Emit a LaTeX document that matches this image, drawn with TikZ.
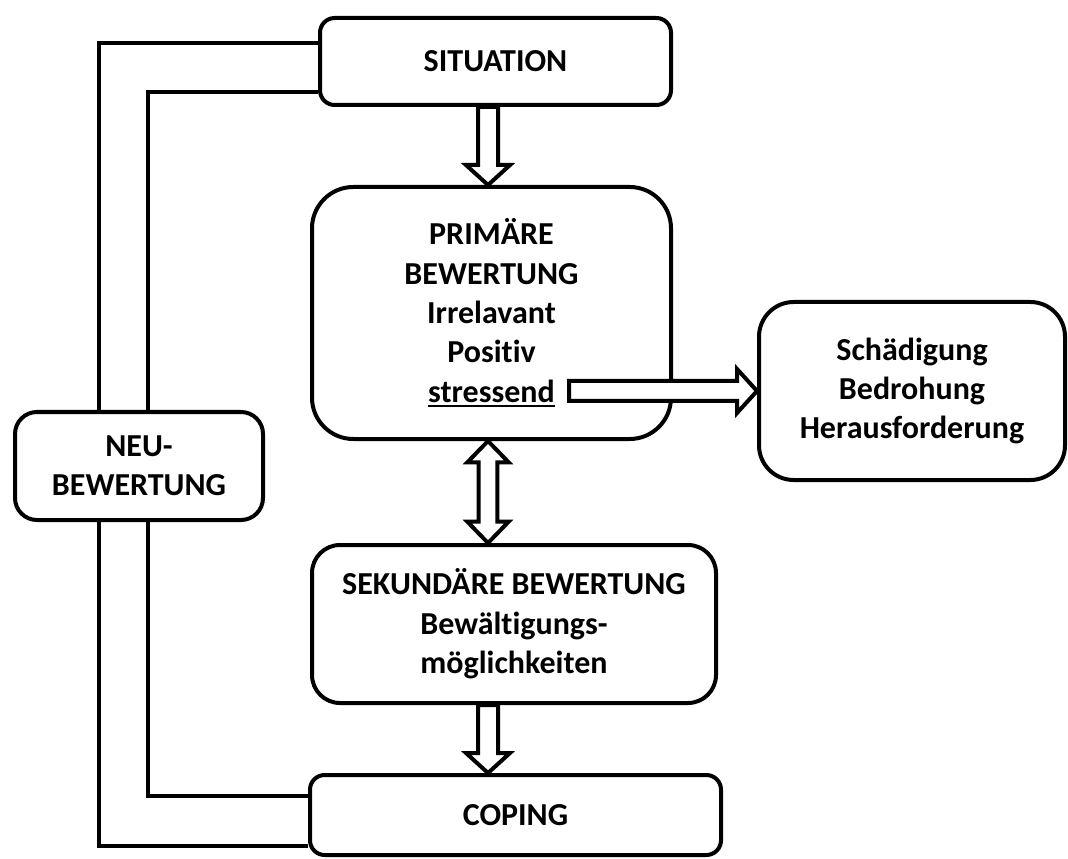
\documentclass[tikz,border=0pt]{standalone}
\usepackage{fontspec}
\setmainfont{Carlito}[Ligatures=CommonOff]
\usetikzlibrary{calc}

\tikzset{
  box/.style={draw, line width=3pt, align=center, inner sep=0pt,
    font=\bfseries\fontsize{24}{29.5}\selectfont},
  link/.style={line width=3pt},
  hollow/.style={draw, fill=white, line width=3pt}
}

% thicker underline, as in the picture
\newcommand{\thickul}[1]{\setbox0\hbox{#1}\rlap{\rule[-3.8pt]{\wd0}{1.6pt}}\box0}

% hollow block arrow from #1 to #2
\newcommand{\fatarrow}[2]{
  \coordinate (fa-s) at #1;
  \coordinate (fa-e) at #2;
  \coordinate (fa-h) at ($(fa-e)!15pt!(fa-s)$);
  \filldraw[hollow] ($(fa-s)!7.5pt!90:(fa-e)$) -- ($(fa-h)!7.5pt!90:(fa-e)$)
    -- ($(fa-h)!16.5pt!90:(fa-e)$) -- (fa-e) -- ($(fa-h)!16.5pt!-90:(fa-e)$)
    -- ($(fa-h)!7.5pt!-90:(fa-e)$) -- ($(fa-s)!7.5pt!-90:(fa-e)$) -- cycle;
}
% hollow block arrow with a head at both ends
\newcommand{\dblarrow}[2]{
  \coordinate (da-s) at #1;
  \coordinate (da-e) at #2;
  \coordinate (da-h1) at ($(da-s)!16pt!(da-e)$);
  \coordinate (da-h2) at ($(da-e)!16pt!(da-s)$);
  \filldraw[hollow] (da-s) -- ($(da-h1)!15.5pt!90:(da-e)$) -- ($(da-h1)!7pt!90:(da-e)$)
    -- ($(da-h2)!7pt!90:(da-e)$) -- ($(da-h2)!15.5pt!90:(da-e)$) -- (da-e)
    -- ($(da-h2)!15.5pt!-90:(da-e)$) -- ($(da-h2)!7pt!-90:(da-e)$)
    -- ($(da-h1)!7pt!-90:(da-e)$) -- ($(da-h1)!15.5pt!-90:(da-e)$) -- cycle;
}

\begin{document}
\begin{tikzpicture}[x=0.75pt,y=-0.75pt]
  \useasboundingbox (0,0) rectangle (1068,859);

  % The boxes
  \node[box, minimum width=263.25pt, minimum height=65.25pt, rounded corners=11pt]
    (sit) at (495.5,61.5) {SITUATION};
  \node[box, minimum width=269.25pt, minimum height=189pt, rounded corners=31pt]
    (prim) at (491.5,313) {PRIMÄRE\\BEWERTUNG\\Irrelavant\\Positiv\\\thickul{stressend}};
  \node[box, minimum width=229.5pt, minimum height=133.5pt, rounded corners=26pt]
    (schad) at (912,391) {Schädigung\\Bedrohung\\Herausforderung};
  \node[box, minimum width=186pt, minimum height=81pt, rounded corners=16.5pt]
    (neu) at (139,466) {NEU-\\BEWERTUNG};
  \node[box, minimum width=303pt, minimum height=118.5pt, rounded corners=21pt]
    (sek) at (514,624) {SEKUNDÄRE BEWERTUNG\\Bewältigungs-\\möglichkeiten};
  \node[box, minimum width=308.25pt, minimum height=60pt, rounded corners=11pt]
    (cop) at (515.5,815) {COPING};

  % Arrows down the middle
  \coordinate (spine) at (488,0);
  \fatarrow{(sit.south -| spine)}{(prim.north -| spine)}
  \dblarrow{(prim.south -| spine)}{(sek.north -| spine)}
  \fatarrow{(sek.south -| spine)}{(cop.north -| spine)}

  % stressend leads out to the right
  \coordinate (stress) at (569,391);
  \fatarrow{(stress)}{(schad.west)}

  % Loop through the re-appraisal
  \draw[link] ([yshift=13.9pt]sit.west) -| ([xshift=-30pt]neu.north);
  \draw[link] ([yshift=-22.9pt]sit.west) -| ([xshift=6.75pt]neu.north);
  \draw[link] ([xshift=-30pt]neu.south) |- ([yshift=-23.25pt]cop.west);
  \draw[link] ([xshift=6.75pt]neu.south) |- ([yshift=14.25pt]cop.west);
\end{tikzpicture}
\end{document}
